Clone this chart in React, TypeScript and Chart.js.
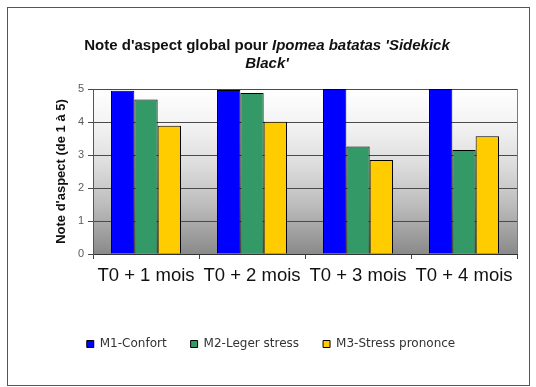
import React, { useEffect, useRef } from "react";
import { Chart, registerables } from "chart.js";

Chart.register(...registerables);

const categories = ["T0 + 1 mois", "T0 + 2 mois", "T0 + 3 mois", "T0 + 4 mois"];
const seriesNames = ["M1-Confort", "M2-Leger stress", "M3-Stress prononce"];
const m1Values = [4.95, 4.97, 5.0, 5.0];
const m2Values = [4.68, 4.88, 3.26, 3.15];
const m3Values = [3.89, 4.01, 2.85, 3.57];
const seriesColors = ["#0000FF", "#339966", "#FFCC00"];
const yMin = 0;
const yMax = 5;
const yStep = 1;
const yTitle = "Note d'aspect (de 1 à 5)";

const plotBackground = {
  id: "plotBackground",
  beforeDraw(chart: any) {
    const { ctx, chartArea } = chart;
    const { left, top, right, bottom } = chartArea;
    const g = ctx.createLinearGradient(0, top, 0, bottom);
    g.addColorStop(0, "#ffffff");
    g.addColorStop(0.2, "#f4f4f4");
    g.addColorStop(0.45, "#dedede");
    g.addColorStop(0.7, "#bdbdbd");
    g.addColorStop(1, "#8a8a8a");
    ctx.save();
    ctx.fillStyle = g;
    ctx.fillRect(left, top, right - left, bottom - top);
    ctx.restore();
  },
  beforeDatasetsDraw(chart: any) {
    const { ctx, chartArea } = chart;
    const { top, right, bottom } = chartArea;
    ctx.save();
    ctx.strokeStyle = "#7a7a7a";
    ctx.lineWidth = 1;
    ctx.beginPath();
    ctx.moveTo(Math.round(right) + 0.5, top);
    ctx.lineTo(Math.round(right) + 0.5, bottom);
    ctx.stroke();
    ctx.restore();
  },
};

export default function App() {
  const canvasRef = useRef<HTMLCanvasElement | null>(null);

  useEffect(() => {
    const canvas = canvasRef.current;
    if (!canvas) return;
    const values = [m1Values, m2Values, m3Values];
    const chart = new Chart(canvas, {
      type: "bar",
      data: {
        labels: categories,
        datasets: seriesNames.map((name, i) => ({
          label: name,
          data: values[i],
          backgroundColor: seriesColors[i],
          borderColor: "#000000",
          borderWidth: 1,
          categoryPercentage: 0.66,
          barPercentage: 1.0,
        })),
      },
      options: {
        responsive: false,
        animation: false,
        layout: { padding: { top: 89, left: 25, right: 19, bottom: 27 } },
        plugins: {
          title: { display: false },
          tooltip: { enabled: false },
          legend: {
            position: "bottom",
            labels: {
              boxWidth: 7,
              boxHeight: 7,
              padding: 24,
              color: "#333333",
              font: { family: "'DejaVu Sans', sans-serif", size: 12 },
            },
          },
        },
        scales: {
          x: {
            afterFit: (scale: any) => {
              scale.height = 60;
            },
            grid: {
              display: true,
              drawOnChartArea: false,
              drawTicks: true,
              tickLength: 5,
              color: "#444444",
              offset: true,
            },
            border: { display: true, color: "#333333" },
            ticks: {
              color: "#111111",
              padding: 6,
              maxRotation: 0,
              font: { family: "'Liberation Sans', Arial, sans-serif", size: 18.5 },
            },
          },
          y: {
            min: yMin,
            max: yMax,
            afterFit: (scale: any) => {
              scale.width = 68;
            },
            ticks: {
              stepSize: yStep,
              color: "#5a5a5a",
              padding: 4,
              font: { family: "'Liberation Sans', Arial, sans-serif", size: 11 },
            },
            grid: {
              color: "#4a4a4a",
              tickLength: 5,
            },
            border: { display: true, color: "#555555" },
            title: {
              display: true,
              text: yTitle,
              color: "#111111",
              padding: { top: 29, bottom: 3 },
              font: { family: "'Liberation Sans', Arial, sans-serif", size: 13, weight: "bold" },
            },
          },
        },
      },
      plugins: [plotBackground],
    });
    return () => chart.destroy();
  }, []);

  return (
    <div style={{ position: "absolute", left: 0, top: 0, width: 536, height: 387, background: "#ffffff" }}>
      <canvas ref={canvasRef} width={536} height={387} style={{ position: "absolute", left: 0, top: 0 }} />
      <div
        style={{
          position: "absolute",
          left: 7,
          top: 7,
          width: 521,
          height: 377,
          border: "1px solid #555555",
          pointerEvents: "none",
        }}
      />
      <div
        style={{
          position: "absolute",
          left: 0,
          top: 36,
          width: 534,
          textAlign: "center",
          fontFamily: "'Liberation Sans', Arial, sans-serif",
          fontWeight: "bold",
          fontSize: 15,
          lineHeight: "18px",
          color: "#111111",
        }}
      >
        Note d'aspect global pour <i>Ipomea batatas 'Sidekick</i>
        <br />
        <i>Black'</i>
      </div>
    </div>
  );
}
